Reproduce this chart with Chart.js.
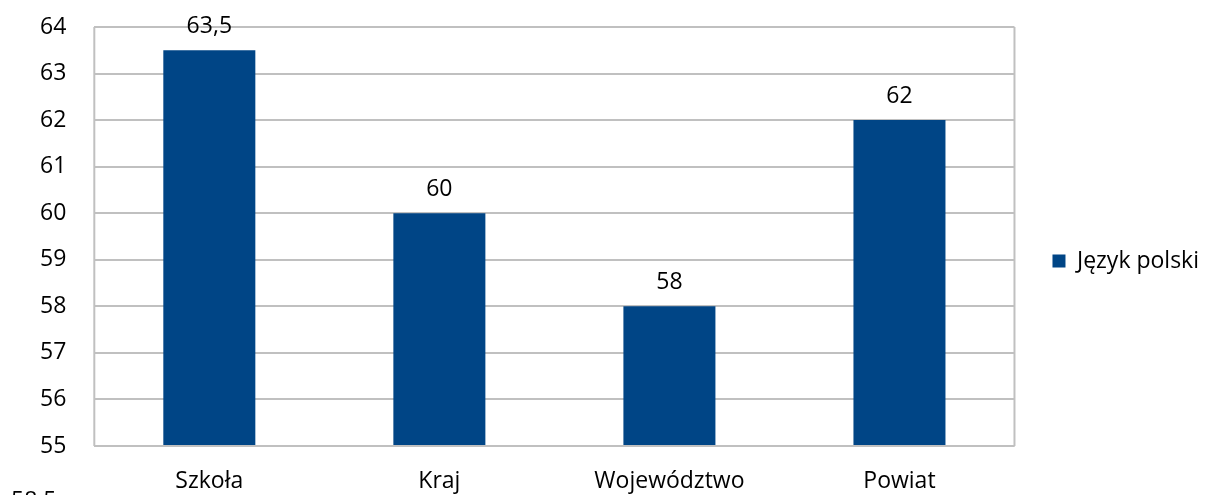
<!DOCTYPE html>
<html>
<head>
<meta charset="utf-8">
<script src="https://cdn.jsdelivr.net/npm/chart.js@4/dist/chart.umd.min.js"></script>
<style>
  html, body { margin: 0; padding: 0; background: #fff; }
  #wrap { position: relative; width: 1209px; height: 495px; overflow: hidden; }
  #c { display: block; }
  #stray { position: absolute; left: 11px; top: 483px; font: 23px "Open Sans", sans-serif; color: #000; }
</style>
</head>
<body>
<div id="wrap">
  <canvas id="c" width="1209" height="495"></canvas>
  <div id="stray">58,5</div>
</div>
<script>
const categories = ["Szkoła", "Kraj", "Województwo", "Powiat"];
const seriesName = "Język polski";
const values = [63.5, 60, 58, 62];
const yTicks = [55, 56, 57, 58, 59, 60, 61, 62, 63, 64];

const FONT = '"Open Sans", sans-serif';
const FS = 23;
const BAR = '#004586';
const GRID = '#c0c0c0';

const fmt = v => String(v).replace('.', ',');

const valueLabels = {
  id: 'valueLabels',
  afterDatasetsDraw(chart) {
    const ctx = chart.ctx;
    const meta = chart.getDatasetMeta(0);
    ctx.save();
    ctx.font = FS + 'px ' + FONT;
    ctx.fillStyle = '#000';
    ctx.textAlign = 'center';
    ctx.textBaseline = 'middle';
    meta.data.forEach((bar, i) => {
      ctx.fillText(fmt(chart.data.datasets[0].data[i]), bar.x, bar.y - 24);
    });
    ctx.restore();
  }
};

const areaBorder = {
  id: 'areaBorder',
  afterDraw(chart) {
    const a = chart.chartArea;
    const ctx = chart.ctx;
    ctx.save();
    ctx.strokeStyle = GRID;
    ctx.lineWidth = 2;
    ctx.beginPath();
    ctx.moveTo(a.left, a.top); ctx.lineTo(a.left, a.bottom);
    ctx.moveTo(a.right, a.top); ctx.lineTo(a.right, a.bottom);
    ctx.moveTo(a.left, a.bottom); ctx.lineTo(a.right, a.bottom);
    ctx.stroke();
    ctx.restore();
  }
};

new Chart(document.getElementById('c'), {
  type: 'bar',
  data: {
    labels: categories,
    datasets: [{
      label: seriesName,
      data: values,
      backgroundColor: BAR,
      borderWidth: 0,
      categoryPercentage: 0.8,
      barPercentage: 0.5
    }]
  },
  options: {
    responsive: false,
    animation: false,
    devicePixelRatio: 1,
    layout: { padding: { left: 12, top: 27, right: 0, bottom: 0 } },
    plugins: {
      tooltip: { enabled: false },
      legend: {
        position: 'right',
        align: 'center',
        labels: {
          font: { family: FONT, size: FS },
          color: '#000',
          boxWidth: 13,
          boxHeight: 13,
          padding: 38
        }
      }
    },
    scales: {
      x: {
        grid: { display: false, drawTicks: false },
        border: { display: false },
        ticks: { font: { family: FONT, size: FS }, color: '#000', padding: 22 },
        afterFit: axis => { axis.height = 49; }
      },
      y: {
        min: 55,
        max: 64,
        afterBuildTicks: axis => { axis.ticks = yTicks.map(v => ({ value: v })); },
        grid: { color: GRID, lineWidth: 2, drawTicks: false },
        border: { display: false },
        ticks: { font: { family: FONT, size: FS }, color: '#000', padding: 28 },
        afterFit: axis => { axis.paddingTop = 0; axis.paddingBottom = 0; }
      }
    }
  },
  plugins: [valueLabels, areaBorder]
});
</script>
</body>
</html>
